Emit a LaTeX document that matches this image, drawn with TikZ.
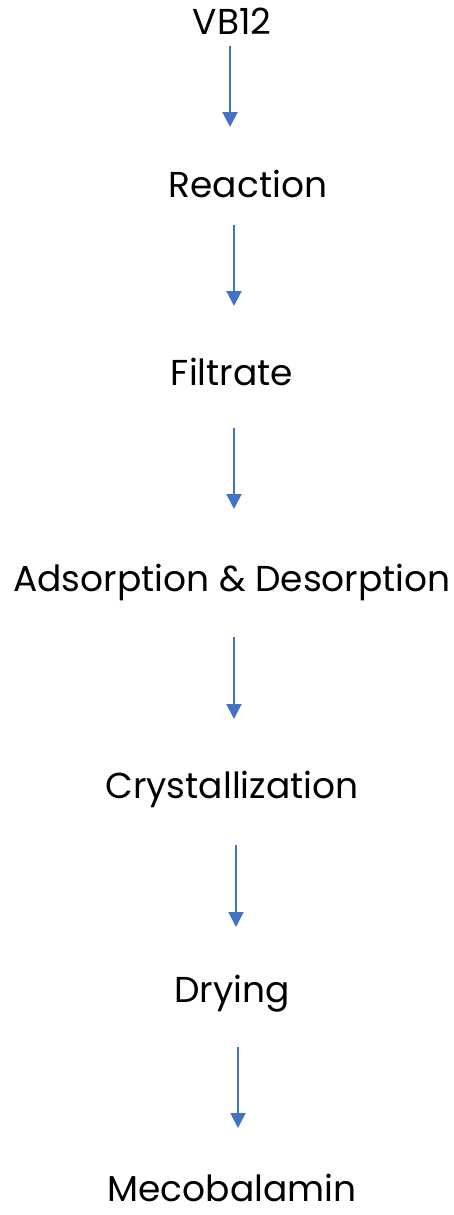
\documentclass[tikz,border=0pt]{standalone}
\usepackage{fontspec}
\setmainfont{Poppins}
\usetikzlibrary{arrows.meta}
\definecolor{arrowblue}{RGB}{68,114,196}
\begin{document}
\begin{tikzpicture}[x=1pt,y=-1pt,
  lbl/.style={anchor=base,inner sep=0pt,font=\fontsize{36}{42}\selectfont},
  flow/.style={arrowblue,line width=2pt,-{Triangle[width=15pt,length=15pt]}}]
\useasboundingbox (0,0) rectangle (453,1215);
\node[lbl] (vb) at (232,35) {VB12};
\node[lbl] (re) at (248,197) {Reaction};
\node[lbl] (fi) at (232,385) {Filtrate};
\node[lbl] (ad) at (232,591) {Adsorption \& Desorption};
\node[lbl] (cr) at (232,798) {Crystallization};
\node[lbl] (dr) at (232,1002) {Drying};
\node[lbl] (me) at (232,1201) {Mecobalamin};
\coordinate (s1) at (230,46); \coordinate (e1) at (230,127);
\coordinate (s2) at (234,225); \coordinate (e2) at (234,306);
\coordinate (s3) at (234,428); \coordinate (e3) at (234,509);
\coordinate (s4) at (234,637); \coordinate (e4) at (234,719);
\coordinate (s5) at (236,845); \coordinate (e5) at (236,927);
\coordinate (s6) at (238,1047); \coordinate (e6) at (238,1128);
\foreach \i in {1,...,6} \draw[flow] (s\i) -- (e\i);
\end{tikzpicture}
\end{document}
